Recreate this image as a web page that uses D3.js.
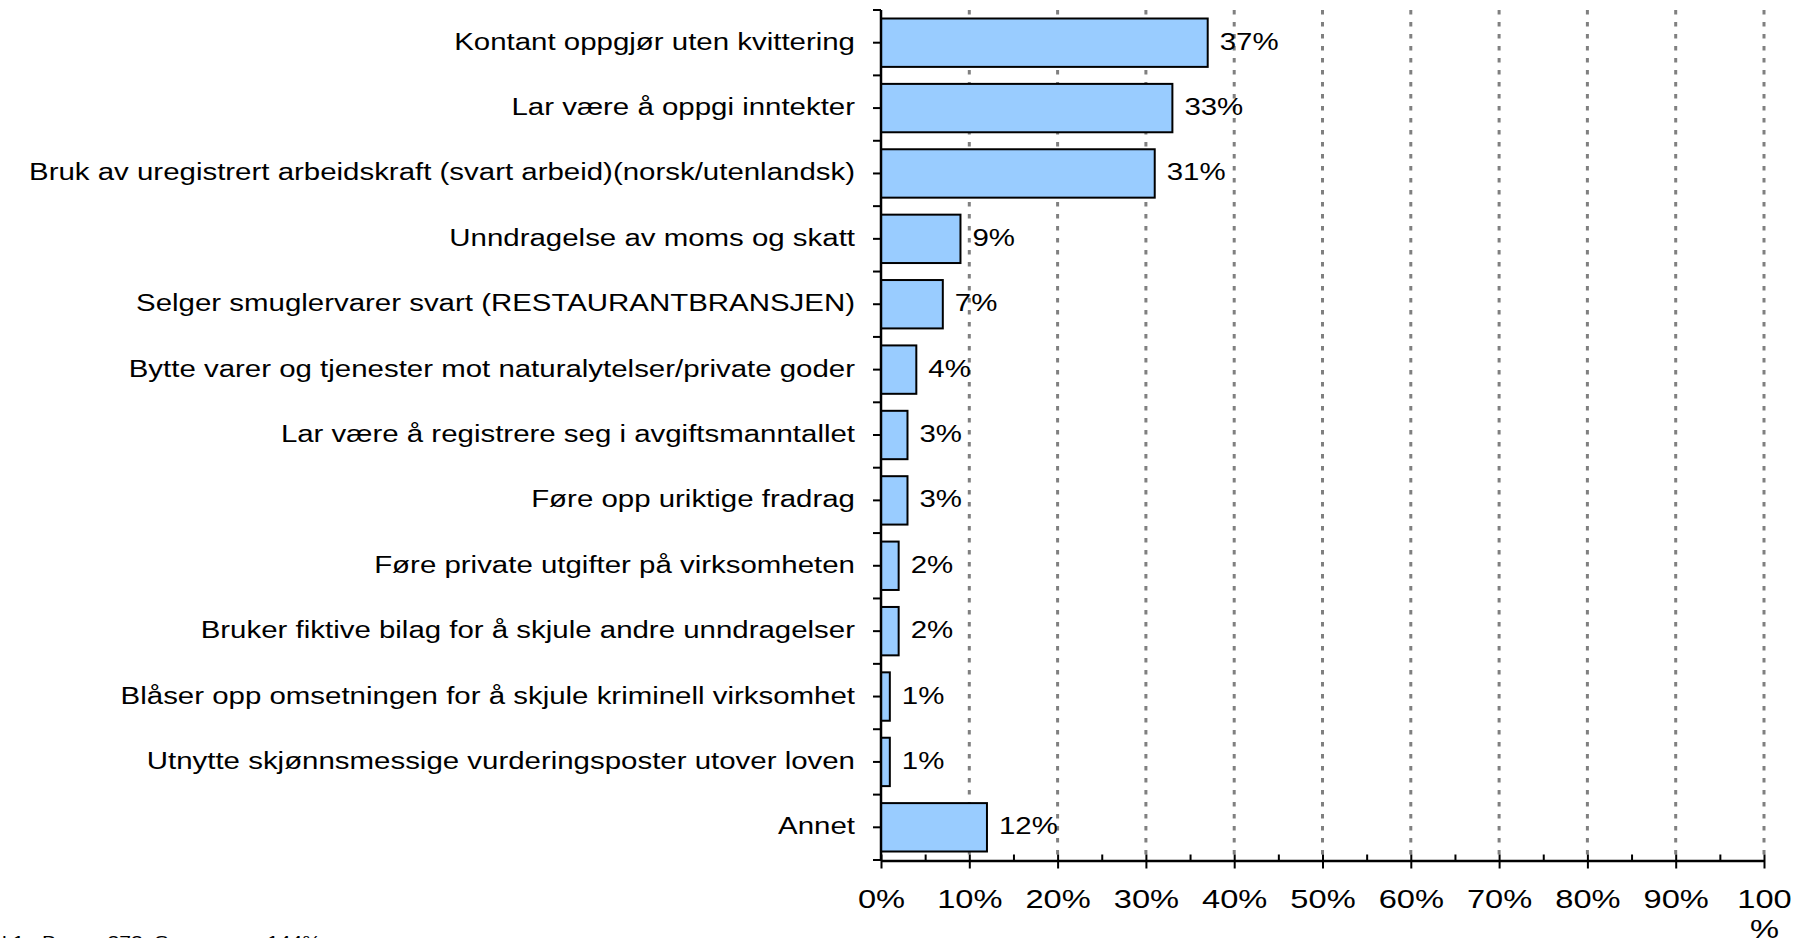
<!DOCTYPE html>
<html>
<head>
<meta charset="utf-8">
<script src="https://cdn.jsdelivr.net/npm/d3@7/dist/d3.min.js"></script>
<style>
  html, body { margin: 0; padding: 0; background: #fff; }
  svg { display: block; }
  text { font-family: "Liberation Sans", Arial, sans-serif; fill: #000; }
</style>
</head>
<body>
<svg id="chart" width="1808" height="938"></svg>
<script>
const categories = [
  "Kontant oppgjør uten kvittering",
  "Lar være å oppgi inntekter",
  "Bruk av uregistrert arbeidskraft (svart arbeid)(norsk/utenlandsk)",
  "Unndragelse av moms og skatt",
  "Selger smuglervarer svart (RESTAURANTBRANSJEN)",
  "Bytte varer og tjenester mot naturalytelser/private goder",
  "Lar være å registrere seg i avgiftsmanntallet",
  "Føre opp uriktige fradrag",
  "Føre private utgifter på virksomheten",
  "Bruker fiktive bilag for å skjule andre unndragelser",
  "Blåser opp omsetningen for å skjule kriminell virksomhet",
  "Utnytte skjønnsmessige vurderingsposter utover loven",
  "Annet"
];
const values = [0.37, 0.33, 0.31, 0.09, 0.07, 0.04, 0.03, 0.03, 0.02, 0.02, 0.01, 0.01, 0.12];
const majorTicks = [0, 0.1, 0.2, 0.3, 0.4, 0.5, 0.6, 0.7, 0.8, 0.9, 1.0];
const minorTicks = [0.05, 0.15, 0.25, 0.35, 0.45, 0.55, 0.65, 0.75, 0.85, 0.95];
const gridTicks = [0.1, 0.2, 0.3, 0.4, 0.5, 0.6, 0.7, 0.8, 0.9, 1.0];
const footnote = "l 1.  Base:  272  Sum svar:   144%";

const STRETCH = 1.28;
const svg = d3.select("#chart");

const x = d3.scaleLinear().domain([0, 1]).range([881, 1764]);
const y = d3.scaleBand().domain(categories).range([10, 860]).paddingInner(0.26).paddingOuter(0.13);
const yCell = d3.scaleBand().domain(categories).range([10, 860]).padding(0);

// gridlines
svg.append("g").selectAll("line").data(gridTicks).join("line")
  .attr("x1", d => x(d)).attr("x2", d => x(d))
  .attr("y1", 10).attr("y2", 860)
  .attr("stroke", "#808080").attr("stroke-width", 3)
  .attr("stroke-dasharray", "4.5 7.5");

// bars
svg.append("g").selectAll("rect").data(values).join("rect")
  .attr("x", x(0))
  .attr("y", (d, i) => y(categories[i]))
  .attr("width", d => x(d) - x(0))
  .attr("height", y.bandwidth())
  .attr("fill", "#99CCFF")
  .attr("stroke", "#000")
  .attr("stroke-width", 2);

// value labels
const fmt = d3.format(".0%");
svg.append("g").selectAll("text").data(values).join("text")
  .attr("transform", (d, i) => `translate(${x(d) + 12},${y(categories[i]) + y.bandwidth() / 2 + 7}) scale(${STRETCH},1)`)
  .attr("font-size", 23)
  .text(d => fmt(d));

// y axis (center ticks + labels)
const yAxis = svg.append("g").attr("transform", `translate(${x(0)},0)`)
  .call(d3.axisLeft(y).tickSize(8).tickPadding(0));
yAxis.select(".domain").remove();
yAxis.selectAll(".tick line").attr("stroke", "#000").attr("stroke-width", 2);
yAxis.selectAll(".tick text")
  .attr("x", null).attr("dy", null)
  .attr("font-size", 23)
  .attr("font-family", "Liberation Sans, Arial, sans-serif")
  .attr("fill", "#000")
  .attr("text-anchor", "end")
  .attr("transform", `translate(-26,7) scale(${STRETCH},1)`);

// y boundary ticks
const bounds = categories.map(c => yCell(c)).concat([yCell.range()[1]]);
svg.append("g").selectAll("line").data(bounds).join("line")
  .attr("x1", x(0) - 8).attr("x2", x(0))
  .attr("y1", d => d).attr("y2", d => d)
  .attr("stroke", "#000").attr("stroke-width", 2);

// y axis line
svg.append("line")
  .attr("x1", x(0)).attr("x2", x(0))
  .attr("y1", 10).attr("y2", 861)
  .attr("stroke", "#000").attr("stroke-width", 2.5);

// x axis
const xAxis = svg.append("g").attr("transform", "translate(0,860.5)")
  .call(d3.axisBottom(x).tickValues(majorTicks).tickSize(8).tickSizeOuter(0).tickPadding(0).tickFormat(d => fmt(d)));
xAxis.select(".domain").attr("stroke", "#000").attr("stroke-width", 2.5);
xAxis.selectAll(".tick line").attr("y1", -6).attr("y2", 8).attr("stroke", "#000").attr("stroke-width", 2);
xAxis.selectAll(".tick text")
  .attr("y", null).attr("dy", null)
  .attr("font-size", 25.5)
  .attr("font-family", "Liberation Sans, Arial, sans-serif")
  .attr("fill", "#000")
  .attr("text-anchor", "middle")
  .attr("transform", `translate(0,47) scale(${STRETCH},1)`)
  .each(function(d) {
    if (d === 1) {
      const t = d3.select(this);
      t.text(null);
      t.append("tspan").attr("x", 0).attr("dy", 0).text("100");
      t.append("tspan").attr("x", 0).attr("dy", 31).text("%");
    }
  });

// minor ticks
const xMinor = svg.append("g").attr("transform", "translate(0,860.5)")
  .call(d3.axisBottom(x).tickValues(minorTicks).tickSize(-6).tickFormat(""));
xMinor.select(".domain").remove();
xMinor.selectAll(".tick line").attr("stroke", "#000").attr("stroke-width", 2);

// footnote
svg.append("text")
  .attr("transform", `translate(2,948) scale(${STRETCH},1)`)
  .attr("font-size", 16.5)
  .style("white-space", "pre")
  .text(footnote);
</script>
</body>
</html>
